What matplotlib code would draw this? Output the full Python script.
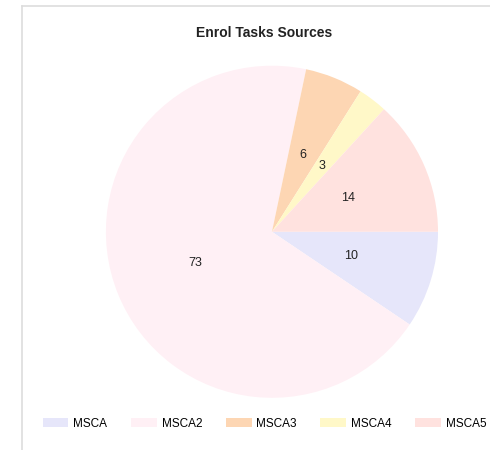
import matplotlib.pyplot as plt
from matplotlib.lines import Line2D

plt.rcParams['font.family'] = ['Liberation Sans', 'DejaVu Sans']

# data
sources = ['MSCA', 'MSCA2', 'MSCA3', 'MSCA4', 'MSCA5']
tasks = [10, 73, 6, 3, 14]
colors = ['#e6e6fa', '#fff0f5', '#fdd6b3', '#fff8c8', '#ffe2df']

fig = plt.figure(figsize=(4.9, 4.5), dpi=100)

# light frame on top and left
fig.add_artist(Line2D([0.045, 0.045], [0.0, 0.987], color='#dddddd', lw=1.2))
fig.add_artist(Line2D([0.045, 1.0], [0.987, 0.987], color='#dddddd', lw=1.2))

ax = fig.add_axes([0.216, 0.116, 0.678, 0.738])
total = sum(tasks)
wedges, texts, autotexts = ax.pie(
    tasks, colors=colors, startangle=0, counterclock=False,
    autopct=lambda p: '%d' % round(p * total / 100), pctdistance=0.5,
    textprops={'fontsize': 9, 'color': '#222222'})
ax.set_xlim(-1, 1)
ax.set_ylim(-1, 1)
ax.set_aspect('equal')

fig.text(0.54, 1 - 33 / 450, 'Enrol Tasks Sources', ha='center', va='center',
         fontsize=10, fontweight='bold', color='#222222')

fig.legend(wedges, sources, loc='center', bbox_to_anchor=(0.54, 1 - 424 / 450),
           ncol=5, frameon=False, fontsize=8.5, handlelength=2.2, handleheight=0.8,
           handletextpad=0.4, columnspacing=2.0)

fig.savefig('out.png', dpi=100)
